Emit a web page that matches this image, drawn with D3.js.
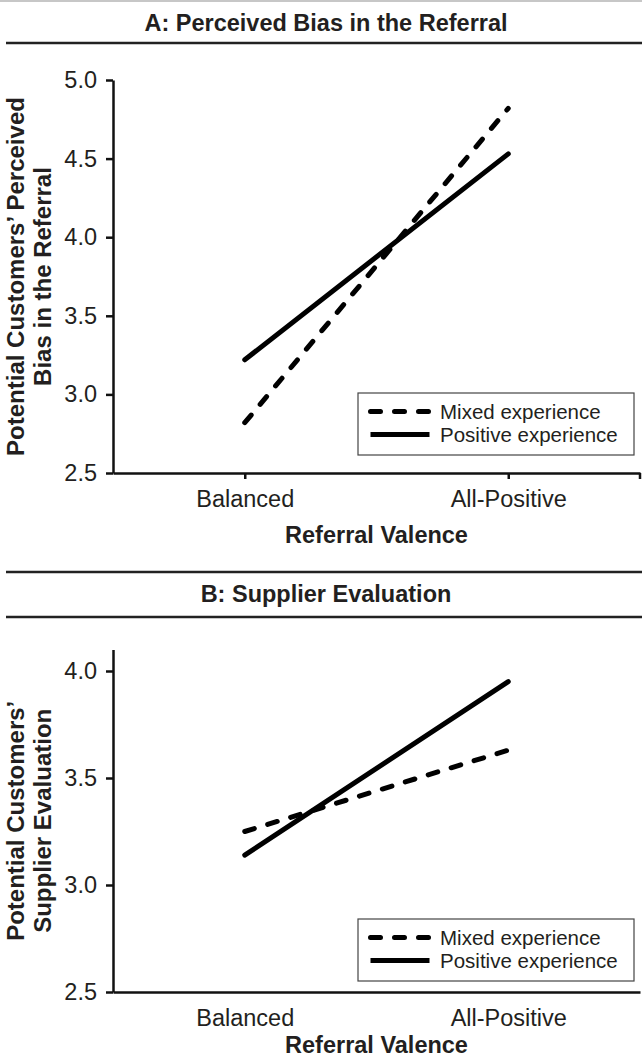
<!DOCTYPE html>
<html><head><meta charset="utf-8">
<script src="https://cdn.jsdelivr.net/npm/d3@7"></script>
<style>html,body{margin:0;padding:0;background:#fff;} svg{display:block;}</style>
</head><body>
<svg id="chart" width="642" height="1061"></svg>
<script>
// ---- data ----
const categories = ["Balanced", "All-Positive"];
const seriesNames = ["Mixed experience", "Positive experience"];
const biasMixed = [2.82, 4.82];
const biasPositive = [3.22, 4.53];
const evalMixed = [3.25, 3.63];
const evalPositive = [3.14, 3.95];
const biasTicks = [2.5, 3.0, 3.5, 4.0, 4.5, 5.0];
const evalTicks = [2.5, 3.0, 3.5, 4.0];
const panelTitles = ["A: Perceived Bias in the Referral", "B: Supplier Evaluation"];
const yTitles = [["Potential Customers’ Perceived", "Bias in the Referral"], ["Potential Customers’", "Supplier Evaluation"]];
const xTitle = "Referral Valence";

// ---- layout / style ----
const W = 642, INK = "#231f20", AX = "#111";
const FONT = "'Liberation Sans', Arial, Helvetica, sans-serif";
const X0 = 113, X1 = 640;
const svg = d3.select("#chart").style("font-family", FONT);

svg.append("line").attr("x1", 0).attr("x2", W).attr("y1", 1).attr("y2", 1)
  .attr("stroke", "#b5b5b5").attr("stroke-width", 1.5);

const panels = [
  { title: panelTitles[0], titleY: 31, rules: [43], yDomain: [2.5, 5.0], yRange: [473, 80],
    ticks: biasTicks, series: [biasMixed, biasPositive], yTitle: yTitles[0], xTicks: true,
    xTitleY: 543, legendTop: 393 },
  { title: panelTitles[1], titleY: 602, rules: [572, 617], yDomain: [2.5, 4.1], yRange: [992, 649.6],
    ticks: evalTicks, series: [evalMixed, evalPositive], yTitle: yTitles[1], xTicks: false,
    xTitleY: 1053, legendTop: 919 }
];

const dashes = ["10,14", null];

panels.forEach(p => {
  // title and rules
  svg.append("text").attr("x", 326).attr("y", p.titleY).attr("text-anchor", "middle")
    .attr("font-size", 23.5).attr("font-weight", "bold").attr("fill", INK).text(p.title);
  p.rules.forEach(ry => svg.append("line").attr("x1", 6).attr("x2", W).attr("y1", ry).attr("y2", ry)
    .attr("stroke", "#222").attr("stroke-width", 2.5));

  const x = d3.scalePoint().domain(categories).range([X0, X1]).padding(0.5);
  const y = d3.scaleLinear().domain(p.yDomain).range(p.yRange);

  // y axis
  const ya = svg.append("g").attr("transform", `translate(${X0},0)`)
    .call(d3.axisLeft(y).tickValues(p.ticks).tickFormat(d3.format(".1f"))
      .tickSize(7).tickSizeOuter(0).tickPadding(9));
  ya.select(".domain").attr("stroke", AX).attr("stroke-width", 2.5);
  ya.selectAll(".tick line").attr("stroke", AX).attr("stroke-width", 2.5);
  ya.selectAll(".tick text").attr("font-size", 23.5).attr("fill", INK).attr("font-family", FONT);

  // x axis
  const yb = p.yRange[0];
  const tsz = p.xTicks ? 6 : 0;
  const xa = svg.append("g").attr("transform", `translate(0,${yb})`)
    .call(d3.axisBottom(x).tickSizeInner(tsz).tickSizeOuter(0).tickPadding(17.3 - tsz));
  xa.select(".domain").attr("stroke", AX).attr("stroke-width", 2.5);
  xa.selectAll(".tick line").attr("stroke", AX).attr("stroke-width", 2.5);
  xa.selectAll(".tick text").attr("font-size", 23.5).attr("fill", INK).attr("font-family", FONT);
  if (p.xTicks) {
    xa.append("line").attr("x1", x.range()[1]).attr("x2", x.range()[1]).attr("y1", 0).attr("y2", tsz)
      .attr("stroke", AX).attr("stroke-width", 2.5);
  }

  // axis titles
  svg.append("text").attr("x", (X0 + X1) / 2).attr("y", p.xTitleY).attr("text-anchor", "middle")
    .attr("font-size", 23.5).attr("font-weight", "bold").attr("fill", INK).text(xTitle);
  const yc = (p.yRange[0] + p.yRange[1]) / 2;
  p.yTitle.forEach((t, i) => {
    svg.append("text").attr("transform", `translate(${23.5 + i * 27},${yc}) rotate(-90)`)
      .attr("text-anchor", "middle").attr("font-size", 24).attr("font-weight", "bold")
      .attr("fill", INK).text(t);
  });

  // lines
  const line = d3.line().x((d, i) => x(categories[i])).y(d => y(d));
  p.series.forEach((s, k) => {
    svg.append("path").datum(s).attr("d", line).attr("fill", "none")
      .attr("stroke", "#000").attr("stroke-width", 5).attr("stroke-linecap", "round")
      .attr("stroke-dasharray", dashes[k]);
  });

  // legend
  const lg = svg.append("g").attr("transform", `translate(358,${p.legendTop})`);
  lg.append("rect").attr("width", 276).attr("height", 62).attr("fill", "#fff")
    .attr("stroke", "#444").attr("stroke-width", 1.2);
  seriesNames.forEach((n, k) => {
    const ry = 18.5 + k * 23;
    lg.append("line").attr("x1", 12.5).attr("x2", 71.5).attr("y1", ry).attr("y2", ry)
      .attr("stroke", "#000").attr("stroke-width", 5).attr("stroke-linecap", k === 0 ? "round" : "butt")
      .attr("stroke-dasharray", dashes[k]);
    lg.append("text").attr("x", 82).attr("y", ry).attr("dy", "0.35em").attr("font-size", 20.5)
      .attr("fill", INK).text(n);
  });
});
</script>
</body></html>
